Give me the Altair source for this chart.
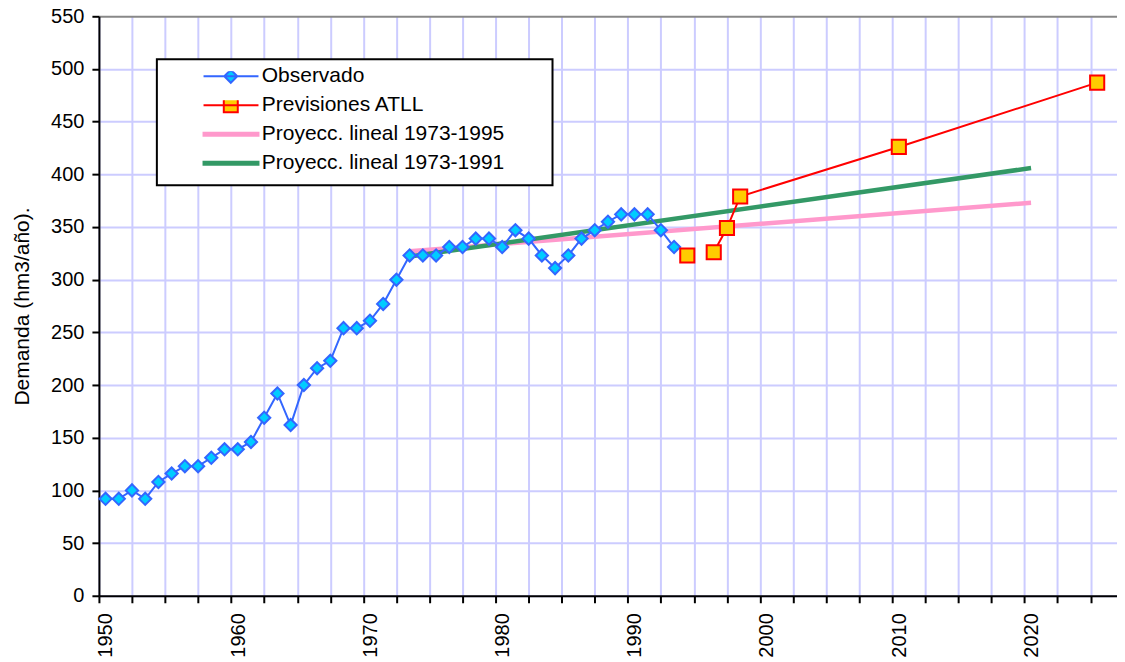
import altair as alt
import pandas as pd

# ---------------- data ----------------
obs_years = list(range(1950, 1994))
obs_values = [92, 92, 100, 92, 108, 116, 123, 123, 131, 139,
              139, 146, 169, 192, 162, 200, 216, 223, 254, 254,
              261, 277, 300, 323, 323, 323, 331, 331, 339, 339,
              331, 347, 339, 323, 311, 323, 339, 347, 355, 362,
              362, 362, 347, 331]

atll_years = [1994, 1996, 1997, 1998, 2010, 2025]
atll_values = [323, 326, 349, 379, 426, 487]
atll_segment = [0, 1, 1, 1, 1, 1]

pink_years = [1973, 2020]
pink_values = [327, 373]
green_years = [1973, 2020]
green_values = [322, 406]

series_names = ["Observado", "Previsiones ATLL",
                "Proyecc. lineal 1973-1995", "Proyecc. lineal 1973-1991"]

x_ticks = [1950 + 2.5 * i for i in range(31)]
y_ticks = list(range(0, 551, 50))

# ---------------- styles ----------------
FONT = "Liberation Sans"
BLUE, CYAN = "#3366FF", "#00CCFF"
RED, YELLOW = "#FF0000", "#FFCC00"
PINK, GREEN = "#FF99CC", "#339966"
GRID = "#CCCCFF"

legend_fill = [CYAN, YELLOW, PINK, GREEN]
legend_stroke = [BLUE, RED, PINK, GREEN]
legend_shapes = [
    "M-0.234,0H1.016M0.386,-0.148L0.534,0L0.386,0.148L0.238,0Z",
    "M-0.234,0H1.016M0.227,-0.159H0.545V0.159H0.227Z",
    "M-0.234,-0.034H1.016V0.034H-0.234Z",
    "M-0.234,-0.034H1.016V0.034H-0.234Z",
]

obs_df = pd.DataFrame({"year": obs_years, "value": obs_values})
atll_df = pd.DataFrame({"year": atll_years, "value": atll_values, "seg": atll_segment})
pink_df = pd.DataFrame({"year": pink_years, "value": pink_values})
green_df = pd.DataFrame({"year": green_years, "value": green_values})
legend_df = pd.DataFrame({"serie": series_names})

x_enc = alt.X(
    "xpos:Q",
    scale=alt.Scale(domain=[1950, 2027], nice=False, zero=False),
    axis=alt.Axis(
        values=x_ticks,
        labelExpr="datum.value % 10 === 0 ? '' + datum.value : ''",
        labelAngle=270,
        labelFontSize=20,
        labelFont=FONT,
        labelColor="black",
        labelPadding=10,
        labelOffset=7,
        labelBaseline="middle",
        labelAlign="right",
        labelOverlap=False,
        labelFlush=False,
        tickSize=7,
        tickWidth=2,
        tickColor="black",
        domainColor="black",
        domainWidth=2,
        grid=True,
        gridColor=GRID,
        gridWidth=2,
        title=None,
    ),
)
y_enc = alt.Y(
    "value:Q",
    scale=alt.Scale(domain=[0, 550], nice=False),
    axis=alt.Axis(
        values=y_ticks,
        labelFontSize=20,
        labelFont=FONT,
        labelColor="black",
        labelPadding=8,
        tickSize=7,
        tickWidth=2,
        tickColor="black",
        domainColor="black",
        domainWidth=2,
        grid=True,
        gridColor={"condition": {"test": "datum.value === 550", "value": "#888888"}, "value": GRID},
        gridWidth=2,
        title="Demanda (hm3/año).",
        titleFont=FONT,
        titleFontSize=21,
        titleFontWeight="normal",
        titleColor="black",
        titlePadding=18,
    ),
)

calc = {"xpos": "datum.year + 0.5"}

pink = alt.Chart(pink_df).transform_calculate(**calc).mark_line(
    color=PINK, strokeWidth=4.5).encode(x=x_enc, y=y_enc)
green = alt.Chart(green_df).transform_calculate(**calc).mark_line(
    color=GREEN, strokeWidth=4.5).encode(x=x_enc, y=y_enc)

obs_line = alt.Chart(obs_df).transform_calculate(**calc).mark_line(
    color=BLUE, strokeWidth=2).encode(x=x_enc, y=y_enc)
obs_pts = alt.Chart(obs_df).transform_calculate(**calc).mark_point(
    shape="diamond", filled=True, fill=CYAN, stroke=BLUE, strokeWidth=2,
    size=150, opacity=1).encode(x=x_enc, y=y_enc)

atll_line = alt.Chart(atll_df).transform_calculate(**calc).mark_line(
    color=RED, strokeWidth=2).encode(x=x_enc, y=y_enc, detail="seg:N")
atll_pts = alt.Chart(atll_df).transform_calculate(**calc).mark_point(
    shape="square", filled=True, fill=YELLOW, stroke=RED, strokeWidth=2,
    size=200, opacity=1).encode(x=x_enc, y=y_enc)

pad = "\u00a0" + "\u2800" * 2
leg = alt.Legend(
    title=None,
    orient="none",
    legendX=58,
    legendY=43,
    fillColor="white",
    strokeColor="black",
    padding=12,
    cornerRadius=0,
    symbolSize=88 * 88,
    symbolStrokeWidth=2,
    symbolOpacity=1,
    clipHeight=10,
    rowPadding=8,
    labelFont=FONT,
    labelFontSize=21,
    labelColor="black",
    labelOffset=3,
    labelLimit=700,
    labelExpr="datum.label + '" + pad + "'",
)

legend_layer = alt.Chart(legend_df).mark_point(opacity=0).encode(
    fill=alt.Fill("serie:N", scale=alt.Scale(domain=series_names, range=legend_fill), legend=leg),
    stroke=alt.Stroke("serie:N", scale=alt.Scale(domain=series_names, range=legend_stroke), legend=leg),
    shape=alt.Shape("serie:N", scale=alt.Scale(domain=series_names, range=legend_shapes), legend=leg),
)

chart = alt.layer(
    pink, green, obs_line, obs_pts, atll_line, atll_pts, legend_layer
).properties(
    width=1019,
    height=580,
    padding={"left": 91, "top": 8, "right": 0, "bottom": 62},
    autosize=alt.AutoSizeParams(type="none"),
).configure(font=FONT).configure_view(strokeWidth=0).configure_legend(strokeWidth=2)

chart.save("out.html", embed_options={"renderer": "svg", "actions": False})
